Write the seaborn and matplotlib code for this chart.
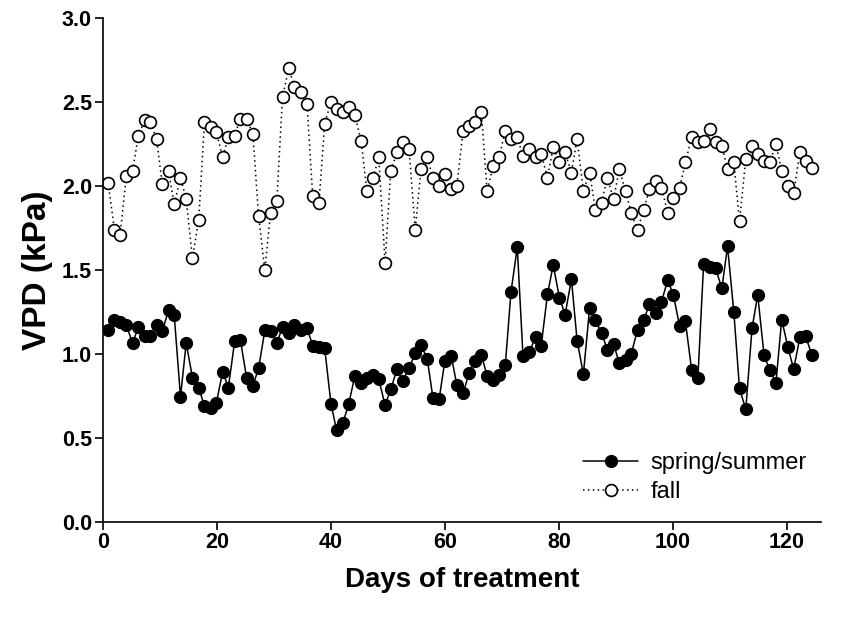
import matplotlib
matplotlib.use("Agg")
import matplotlib.pyplot as plt
import seaborn as sns
import pandas as pd

# Sampling days of the VPD readings (evenly spaced measurements)
days = [
    0.9, 2.0, 3.0, 4.1, 5.2, 6.2, 7.3, 8.3, 9.4, 10.4,
    11.5, 12.5, 13.6, 14.6, 15.7, 16.8, 17.8, 18.9, 19.9, 21.0,
    22.0, 23.1, 24.1, 25.2, 26.3, 27.3, 28.4, 29.4, 30.5, 31.5,
    32.6, 33.6, 34.7, 35.8, 36.8, 37.9, 38.9, 40.0, 41.0, 42.1,
    43.1, 44.2, 45.3, 46.3, 47.4, 48.4, 49.5, 50.5, 51.6, 52.6,
    53.7, 54.8, 55.8, 56.9, 57.9, 59.0, 60.0, 61.1, 62.1, 63.2,
    64.2, 65.3, 66.4, 67.4, 68.5, 69.5, 70.6, 71.6, 72.7, 73.7,
    74.8, 75.9, 76.9, 78.0, 79.0, 80.1, 81.1, 82.2, 83.2, 84.3,
    85.4, 86.4, 87.5, 88.5, 89.6, 90.6, 91.7, 92.7, 93.8, 94.9,
    95.9, 97.0, 98.0, 99.1, 100.1, 101.2, 102.2, 103.3, 104.4, 105.4,
    106.5, 107.5, 108.6, 109.6, 110.7, 111.7, 112.8, 113.9, 114.9, 116.0,
    117.0, 118.1, 119.1, 120.2, 121.2, 122.3, 123.3, 124.4,
]

spring_summer = [
    1.14, 1.20, 1.19, 1.17, 1.065, 1.16, 1.11, 1.105, 1.17, 1.135,
    1.26, 1.23, 0.745, 1.065, 0.86, 0.80, 0.69, 0.68, 0.71, 0.895,
    0.80, 1.075, 1.085, 0.86, 0.81, 0.915, 1.14, 1.135, 1.065, 1.16,
    1.125, 1.17, 1.14, 1.155, 1.05, 1.04, 1.035, 0.705, 0.545, 0.59,
    0.70, 0.87, 0.825, 0.86, 0.875, 0.85, 0.695, 0.79, 0.91, 0.84,
    0.915, 1.005, 1.055, 0.97, 0.74, 0.735, 0.96, 0.99, 0.815, 0.765,
    0.885, 0.96, 0.995, 0.87, 0.845, 0.875, 0.935, 1.37, 1.635, 0.99,
    1.01, 1.10, 1.05, 1.355, 1.53, 1.335, 1.235, 1.445, 1.08, 0.88,
    1.275, 1.20, 1.125, 1.025, 1.06, 0.945, 0.965, 1.00, 1.145, 1.205,
    1.295, 1.245, 1.31, 1.44, 1.35, 1.165, 1.195, 0.905, 0.86, 1.535,
    1.52, 1.51, 1.39, 1.64, 1.25, 0.795, 0.67, 1.155, 1.35, 0.995,
    0.905, 0.83, 1.205, 1.04, 0.91, 1.10, 1.105, 0.995,
]

fall = [
    2.02, 1.74, 1.71, 2.06, 2.09, 2.30, 2.39, 2.38, 2.28, 2.01,
    2.09, 1.89, 2.05, 1.92, 1.57, 1.80, 2.38, 2.35, 2.32, 2.17,
    2.29, 2.30, 2.40, 2.40, 2.31, 1.82, 1.50, 1.84, 1.91, 2.53,
    2.70, 2.59, 2.56, 2.49, 1.94, 1.90, 2.37, 2.50, 2.46, 2.44,
    2.47, 2.42, 2.27, 1.97, 2.05, 2.17, 1.54, 2.09, 2.20, 2.26,
    2.22, 1.74, 2.10, 2.17, 2.05, 2.00, 2.07, 1.98, 2.00, 2.33,
    2.36, 2.38, 2.44, 1.97, 2.12, 2.17, 2.33, 2.28, 2.29, 2.18,
    2.22, 2.17, 2.19, 2.05, 2.23, 2.14, 2.20, 2.08, 2.28, 1.97,
    2.08, 1.86, 1.90, 2.05, 1.92, 2.10, 1.97, 1.84, 1.74, 1.86,
    1.98, 2.03, 1.99, 1.84, 1.93, 1.99, 2.14, 2.29, 2.26, 2.27,
    2.34, 2.26, 2.24, 2.10, 2.14, 1.79, 2.16, 2.24, 2.19, 2.15,
    2.14, 2.25, 2.09, 2.00, 1.96, 2.20, 2.15, 2.11,
]

x_ticks = [0, 20, 40, 60, 80, 100, 120]
y_ticks = [0.0, 0.5, 1.0, 1.5, 2.0, 2.5, 3.0]

sns.set_style("ticks")
plt.rcParams["font.family"] = ["Liberation Sans", "DejaVu Sans"]
plt.rcParams["text.color"] = "black"
plt.rcParams["axes.labelcolor"] = "black"
plt.rcParams["xtick.color"] = "black"
plt.rcParams["ytick.color"] = "black"
plt.rcParams["axes.edgecolor"] = "black"

df = pd.DataFrame({"day": days, "spring": spring_summer, "fall": fall})

fig = plt.figure(figsize=(8.44, 6.18), dpi=100)
ax = fig.add_axes([103 / 844, 96 / 618, 718 / 844, 504 / 618])

sns.lineplot(data=df, x="day", y="spring", ax=ax, color="black",
             linewidth=1.1, marker="o", markersize=8.5,
             markerfacecolor="black", markeredgecolor="black",
             markeredgewidth=1.0, solid_joinstyle="miter",
             label="spring/summer")
sns.lineplot(data=df, x="day", y="fall", ax=ax, color="black",
             linewidth=1.1, linestyle=(0, (1, 2.2)), marker="o",
             markersize=8.5, markerfacecolor="white",
             markeredgecolor="black", markeredgewidth=1.2,
             label="fall")

ax.set_xlim(0, 126)
ax.set_ylim(0, 3.0)
ax.set_xticks(x_ticks)
ax.set_yticks(y_ticks)
ax.set_yticklabels([f"{v:.1f}" for v in y_ticks])
ax.tick_params(axis="both", direction="out", length=6, width=1.2,
               labelsize=15.5, colors="black")
ax.tick_params(axis="x", pad=1.5)
ax.tick_params(axis="y", pad=2.0)
for lab in ax.get_xticklabels() + ax.get_yticklabels():
    lab.set_fontweight("bold")

for side in ("top", "right"):
    ax.spines[side].set_visible(False)
for side in ("left", "bottom"):
    ax.spines[side].set_linewidth(1.2)
    ax.spines[side].set_color("black")

ax.set_xlabel("Days of treatment", fontsize=20, fontweight="bold", labelpad=10)
ax.set_ylabel("VPD (kPa)", fontsize=24, fontweight="bold", labelpad=6)

leg = ax.legend(loc="upper left", bbox_to_anchor=(583 / 844, 1 - 452 / 618),
                bbox_transform=fig.transFigure, frameon=False,
                fontsize=17, handlelength=2.35, handletextpad=0.5,
                labelspacing=0.3, borderpad=0, borderaxespad=0)
for txt in leg.get_texts():
    txt.set_color("black")

fig.savefig("out.png", dpi=100)
